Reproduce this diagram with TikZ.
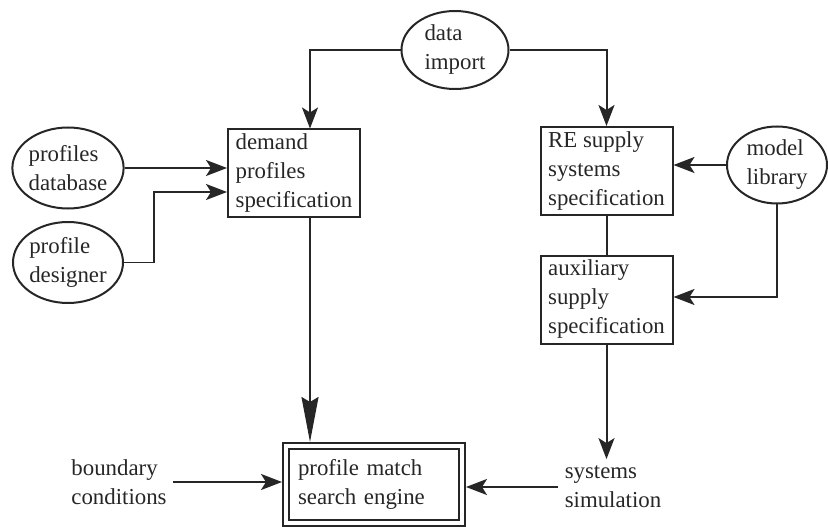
\documentclass[tikz,border=0pt]{standalone}
\usepackage{fontspec}
\setmainfont{Liberation Serif}
\usepackage{tikz}
\usetikzlibrary{arrows.meta, positioning, shapes.geometric, calc}
\tikzset{
    every node/.style={font=\fontsize{13pt}{16.5pt}\selectfont, text=black!85},
    srcnode/.style={ellipse, draw, minimum width=2.2cm, minimum height=1.62cm, inner sep=0pt, align=left},
    specnode/.style={rectangle, draw, minimum width=2.64cm, minimum height=1.76cm, inner xsep=0.12cm, inner ysep=0pt, align=left},
    enginenode/.style={rectangle, draw, minimum width=3.64cm, minimum height=1.66cm, inner xsep=0.3cm, text width=3.04cm, align=left},
    plainnode/.style={align=left},
    link/.style={draw=black!85, line width=0.04cm},
    longtip/.style={-{Stealth[length=0.9cm, width=0.34cm, inset=0.1cm]}}
}

\begin{document}
\begin{tikzpicture}[>={Stealth[length=0.42cm, width=0.32cm, inset=0.1cm]}, line width=0.04cm, draw=black!85]
  \useasboundingbox (0,0) rectangle (16.56,-10.54);
  \node[srcnode, minimum width=2.14cm, minimum height=1.56cm] (dimport) at (9.10, -1.00) {data\\import};
  \node[srcnode] (pdb) at (1.36, -3.36) {profiles\\database};
  \node[srcnode] (pdes) at (1.36, -5.25) {profile\\designer};
  \node[srcnode, minimum width=2.00cm, minimum height=1.54cm] (mlib) at (15.54, -3.30) {model\\library};
  \node[specnode] (demand) at (5.88, -3.47) {demand\\profiles\\specification};
  \node[specnode] (resupply) at (12.13, -3.42) {RE supply\\systems\\specification};
  \node[specnode] (aux) at (12.13, -5.99) {auxiliary\\supply\\specification};
  \node[enginenode] (match) at (7.48, -9.69) {profile match\\search engine};
  \node[plainnode] (bcond) at (2.38, -9.64) {boundary\\conditions};
  \node[plainnode] (sim) at (12.26, -9.74) {systems\\simulation};
  \draw ([shift={(0.14,-0.14)}]match.north west) rectangle ([shift={(-0.14,0.14)}]match.south east);
  \draw[link, ->] (dimport.west) -| ([xshift=0.32cm]demand.north);
  \draw[link, ->] (dimport.east) -| (resupply.north);
  \draw[link, ->] (pdb.east) -- (pdb.east -| demand.west);
  \draw[link, ->] (pdes.east) -- ++(0.60,0) |- ([yshift=-0.37cm]demand.west);
  \draw[link, longtip] ([xshift=0.32cm]demand.south) -- ([xshift=0.32cm]demand.south |- match.north);
  \draw[link, ->] (mlib.west) -- (mlib.west -| resupply.east);
  \draw[link] (resupply.south) -- (aux.north);
  \draw[link, ->] (mlib.south) |- ([yshift=0.05cm]aux.east);
  \draw[link, ->] (aux.south) -- (aux.south |- sim.north);
  \draw[link, ->] (bcond.east) -- (bcond.east -| match.west);
  \draw[link, ->] (sim.west) -- (sim.west -| match.east);
\end{tikzpicture}
\end{document}
